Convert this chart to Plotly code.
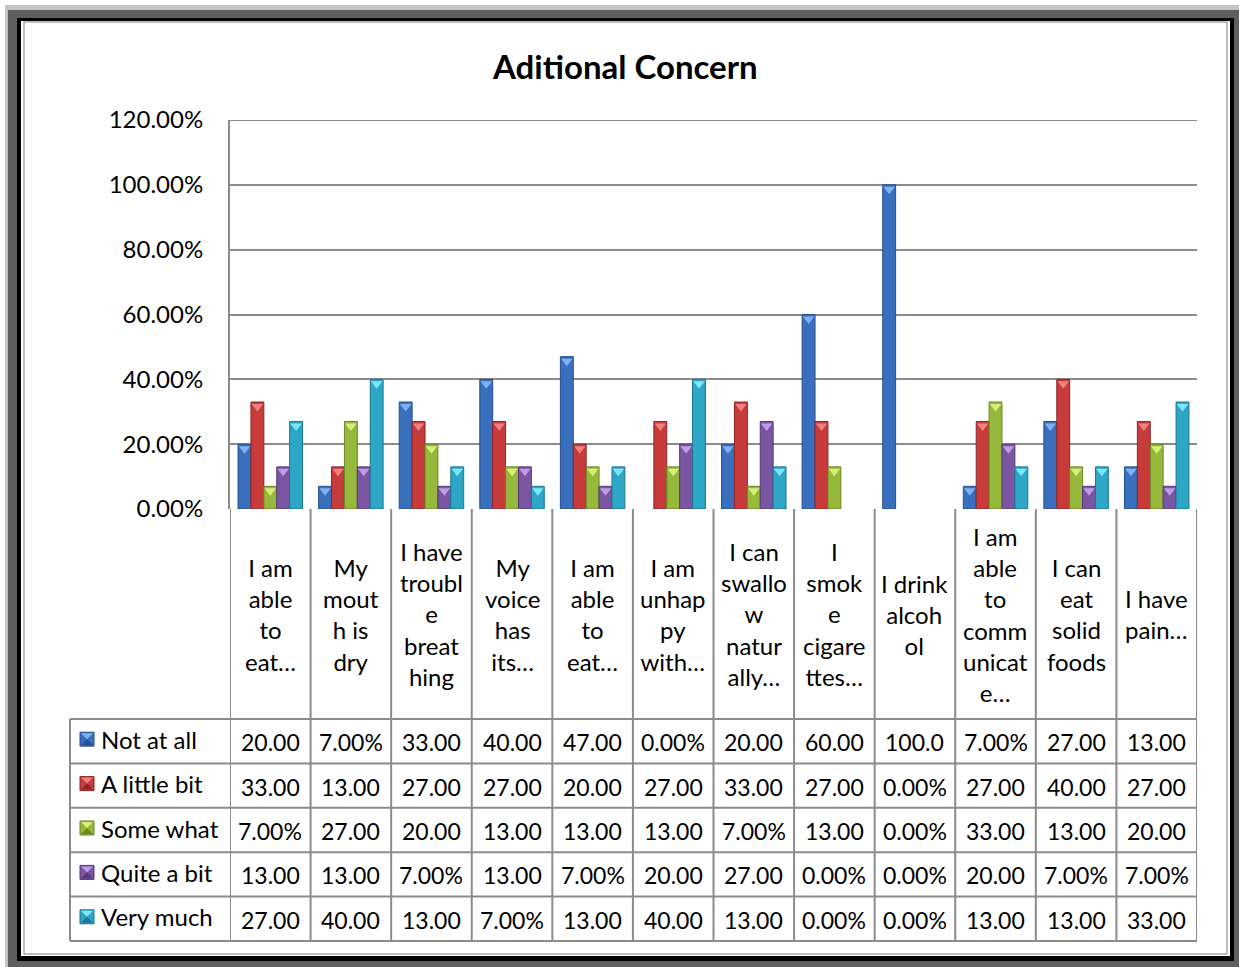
import plotly.graph_objects as go

# ---- data -------------------------------------------------------------
category_lines = [
    ["I am", "able", "to", "eat…"],
    ["My", "mout", "h is", "dry"],
    ["I have", "troubl", "e", "breat", "hing"],
    ["My", "voice", "has", "its…"],
    ["I am", "able", "to", "eat…"],
    ["I am", "unhap", "py", "with…"],
    ["I can", "swallo", "w", "natur", "ally…"],
    ["I", "smok", "e", "cigare", "ttes…"],
    ["I drink", "alcoh", "ol"],
    ["I am", "able", "to", "comm", "unicat", "e…"],
    ["I can", "eat", "solid", "foods"],
    ["I have", "pain…"],
]
series_names = ["Not at all", "A little bit", "Some what", "Quite a bit", "Very much"]
not_at_all   = [20, 7, 33, 40, 47, 0, 20, 60, 100, 7, 27, 13]
a_little_bit = [33, 13, 27, 27, 20, 27, 33, 27, 0, 27, 40, 27]
some_what    = [7, 27, 20, 13, 13, 13, 7, 13, 0, 33, 13, 20]
quite_a_bit  = [13, 13, 7, 13, 7, 20, 27, 0, 0, 20, 7, 7]
very_much    = [27, 40, 13, 7, 13, 40, 13, 0, 0, 13, 13, 33]
series_values = [not_at_all, a_little_bit, some_what, quite_a_bit, very_much]
y_ticks = [0, 20, 40, 60, 80, 100, 120]

# ---- styling ----------------------------------------------------------
colors = ["#3a6fbd", "#c83b3b", "#97b93b", "#7a55a2", "#2ea6c6"]
dark = ["#234f8f", "#8e2424", "#6a8527", "#553a78", "#1d7790"]
light = ["#7fb0f0", "#f08080", "#d6ef7a", "#c09be8", "#7fe6ff"]
FONT = "Lato"
GRID = "#8c8c8c"
W, H = 1239, 967
L, R, T, B = 230, 1197, 120, 509          # plot area in pixels


def px(x):
    return (x - L) / (R - L)


def py(y):
    return (B - y) / (B - T)


cats = ["c%d" % i for i in range(len(category_lines))]
n = len(cats)

fig = go.Figure()
tri_shift = 4.5 * 120 / (B - T)           # lift triangle so its top sits on bar top
for k, name in enumerate(series_names):
    vals = series_values[k]
    fig.add_trace(go.Bar(
        x=cats, y=vals, name=name,
        offsetgroup=str(k), alignmentgroup="a",
        marker=dict(color=colors[k],
                    line=dict(color=dark[k], width=[1 if v > 0 else 0 for v in vals])),
        showlegend=False,
    ))
for k, name in enumerate(series_names):
    fig.add_trace(go.Scatter(
        x=cats, y=[v - tri_shift if v > 0 else None for v in series_values[k]],
        mode="markers", offsetgroup=str(k), alignmentgroup="a",
        marker=dict(symbol="triangle-down", size=10, color=light[k],
                    line=dict(width=0)),
        showlegend=False, hoverinfo="skip",
    ))

shapes = []
annotations = []

# frame around the chart
shapes += [
    dict(type="rect", xref="paper", yref="paper", x0=px(5), x1=px(W), y0=py(5), y1=py(H),
         fillcolor="#c4c4c4", line=dict(width=0), layer="below"),
    dict(type="rect", xref="paper", yref="paper", x0=px(8), x1=px(W), y0=py(10), y1=py(H),
         fillcolor="#5f5f5f", line=dict(width=0), layer="below"),
    dict(type="rect", xref="paper", yref="paper", x0=px(17), x1=px(1234), y0=py(18), y1=py(961),
         fillcolor="#000000", line=dict(width=0), layer="below"),
    dict(type="rect", xref="paper", yref="paper", x0=px(21), x1=px(1230), y0=py(21), y1=py(956),
         fillcolor="#ffffff", line=dict(width=0), layer="below"),
    dict(type="rect", xref="paper", yref="paper", x0=px(24), x1=px(1227), y0=py(22), y1=py(954),
         fillcolor="#ffffff", line=dict(color="#a8a8a8", width=1.5), layer="below"),
]

# top gridline sits exactly on the range edge
shapes.append(dict(type="line", xref="paper", yref="y", x0=0, x1=1,
                   y0=y_ticks[-1], y1=y_ticks[-1], line=dict(color=GRID, width=2),
                   layer="below"))

# data table geometry
LEG_L = 70
HDR_B = 719
ROW_H = (941 - 719) / 5
row_tops = [HDR_B + i * ROW_H for i in range(6)]

line = dict(color=GRID, width=2)
for yy in row_tops:
    shapes.append(dict(type="line", xref="paper", yref="paper", x0=px(LEG_L), x1=1,
                       y0=py(yy), y1=py(yy), line=line))
for i in range(n + 1):
    shapes.append(dict(type="line", xref="x", yref="paper", x0=i - 0.5, x1=i - 0.5,
                       y0=py(B), y1=py(row_tops[-1]), line=line))
shapes.append(dict(type="line", xref="paper", yref="paper", x0=px(LEG_L), x1=px(LEG_L),
                   y0=py(HDR_B), y1=py(row_tops[-1]), line=line))

# category header cells
for i, lines in enumerate(category_lines):
    annotations.append(dict(
        x=i, y=py((B + HDR_B) / 2), xref="x", yref="paper",
        text="<br>".join(lines), showarrow=False, align="center",
        xanchor="center", yanchor="middle",
        font=dict(family=FONT, size=24, color="black"),
    ))


def cell_text(v):
    s = "%.2f%%" % v
    return s[:5]


for k, name in enumerate(series_names):
    yc = row_tops[k] + ROW_H / 2
    # legend key
    x0, x1 = LEG_L + 10, LEG_L + 24
    y0, y1 = yc - 9, yc + 5
    shapes.append(dict(type="rect", xref="paper", yref="paper",
                       x0=px(x0), x1=px(x1), y0=py(y0), y1=py(y1),
                       fillcolor=colors[k], line=dict(color=dark[k], width=1)))
    shapes.append(dict(type="path", xref="paper", yref="paper",
                       path="M %f %f L %f %f L %f %f Z" % (
                           px(x0 + 1), py(y0 + 1), px(x1 - 1), py(y0 + 1),
                           px((x0 + x1) / 2), py((y0 + y1) / 2)),
                       fillcolor=light[k], line=dict(width=0)))
    shapes.append(dict(type="path", xref="paper", yref="paper",
                       path="M %f %f L %f %f L %f %f Z" % (
                           px(x0 + 1), py(y1 - 1), px(x1 - 1), py(y1 - 1),
                           px((x0 + x1) / 2), py((y0 + y1) / 2)),
                       fillcolor=dark[k], line=dict(width=0)))
    annotations.append(dict(
        x=px(LEG_L + 29), y=py(yc - 2), xref="paper", yref="paper",
        text=name, showarrow=False, xanchor="left", yanchor="middle",
        font=dict(family=FONT, size=24, color="black"),
    ))
    for i, v in enumerate(series_values[k]):
        annotations.append(dict(
            x=i, y=py(yc + 1), xref="x", yref="paper",
            text=cell_text(v), showarrow=False, xanchor="center", yanchor="middle",
            font=dict(family=FONT, size=23, color="black"),
        ))

# title
annotations.append(dict(
    x=px(625), y=py(66), xref="paper", yref="paper", text="<b>Aditional Concern</b>",
    showarrow=False, xanchor="center", yanchor="middle",
    font=dict(family=FONT, size=33, color="black"),
))

fig.update_layout(
    width=W, height=H,
    margin=dict(l=L, r=W - R, t=T, b=H - B, pad=0),
    paper_bgcolor="white", plot_bgcolor="rgba(0,0,0,0)",
    barmode="group", bargap=0.2, bargroupgap=0,
    scattermode="group", scattergap=0.2,
    shapes=shapes, annotations=annotations,
    font=dict(family=FONT, size=23, color="black"),
)
fig.update_xaxes(type="category", categoryorder="array", categoryarray=cats,
                 range=[-0.5, n - 0.5], showticklabels=False, showgrid=False,
                 zeroline=False, showline=False, ticks="")
fig.update_yaxes(range=[0, 120], tickvals=y_ticks,
                 ticktext=["%.2f%%" % t for t in y_ticks],
                 showgrid=True, gridcolor=GRID, gridwidth=2,
                 zeroline=False, showline=True, linecolor=GRID, linewidth=2,
                 ticks="", ticklabelstandoff=20,
                 tickfont=dict(family=FONT, size=24, color="black"))

fig.write_html("out.html")
